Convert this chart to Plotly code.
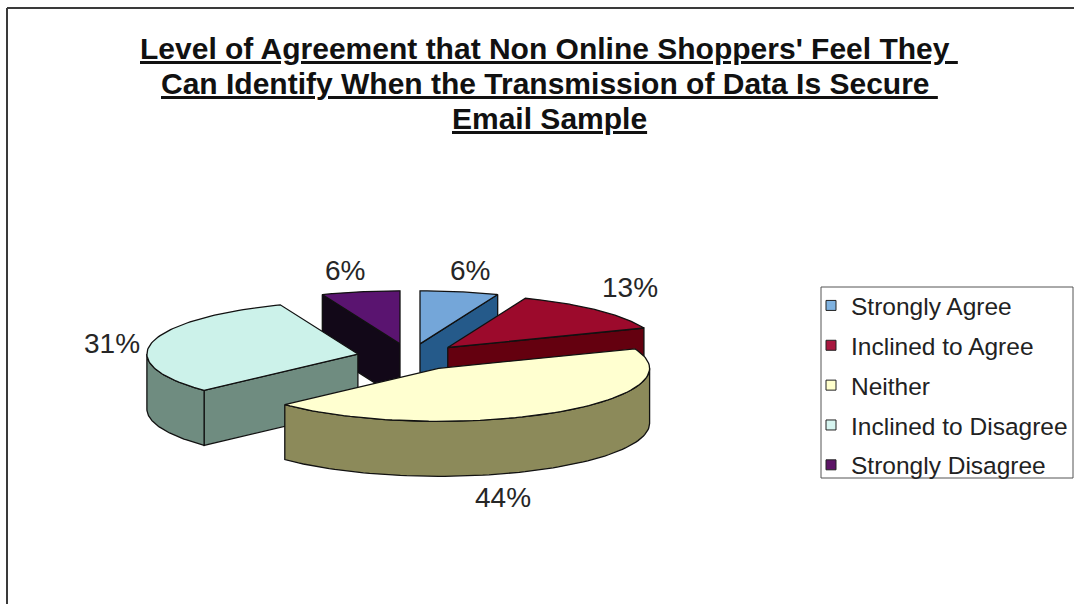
import numpy as np
import plotly.graph_objects as go

# ---- data -------------------------------------------------------------
CATEGORIES = ["Strongly Agree", "Inclined to Agree", "Neither",
              "Inclined to Disagree", "Strongly Disagree"]
VALUES = [6, 13, 44, 31, 6]

TITLE_LINES = [
    "Level of Agreement that Non Online Shoppers' Feel They ",
    "Can Identify When the Transmission of Data Is Secure ",
    "Email Sample",
]

# ---- styling ----------------------------------------------------------
TOP_COLORS = ["#74A6D9", "#9C0A2C", "#FFFFD0", "#CCF2EA", "#5A1470"]
SIDE_COLORS = ["#255A8A", "#64000F", "#8C8A5A", "#6F8C80", "#120818"]
LEGEND_COLORS = ["#7FB2E0", "#A8173F", "#FFFFCC", "#D6F5F0", "#5C1466"]

W, H = 1074, 604
CX, CY = 410.0, 357.0      # centre of the (unexploded) top face, px
RX, RY = 211.0, 53.0       # ellipse radii of the top face, px
DEPTH = 55.0               # visible thickness of the pie, px
EXPLODE = 0.253            # explosion distance as a fraction of the radius
START = 90.0               # first slice starts at 12 o'clock, clockwise

LABEL_POS = [(470, 270), (630, 287), (503, 497), (112, 343), (345, 270)]
LABEL_FONT = dict(family="Liberation Sans, Arial, sans-serif", size=28, color="#262626")

LEGEND_BOX = (821, 287, 1073, 478)   # x0, y0, x1, y1 in px


def ellipse(vx, vy, ang_deg, k=1.0):
    a = np.radians(ang_deg)
    return vx + k * RX * np.cos(a), vy - k * RY * np.sin(a)


def arc(vx, vy, a0, a1, n=80, dy=0.0):
    t = np.linspace(a0, a1, n)
    x, y = ellipse(vx, vy, t)
    return list(x), list(y + dy)


total = float(sum(VALUES))
cum = np.concatenate([[0.0], np.cumsum(VALUES)]) / total
slices = []
for i, v in enumerate(VALUES):
    hi = START - 360.0 * cum[i]
    lo = START - 360.0 * cum[i + 1]
    mid = 0.5 * (lo + hi)
    m = np.radians(mid)
    vx = CX + EXPLODE * RX * np.cos(m)
    vy = CY - EXPLODE * RY * np.sin(m)
    slices.append(dict(i=i, lo=lo, hi=hi, mid=mid, vx=vx, vy=vy))

fig = go.Figure()


def poly(xs, ys, color):
    fig.add_trace(go.Scatter(
        x=xs + [xs[0]], y=ys + [ys[0]], mode="lines", fill="toself",
        fillcolor=color, line=dict(color="#111111", width=1.3),
        hoverinfo="skip", showlegend=False))


# paint back slices first
for s in sorted(slices, key=lambda d: d["vy"]):
    i, lo, hi, vx, vy = s["i"], s["lo"], s["hi"], s["vx"], s["vy"]
    side = SIDE_COLORS[i]
    # radial walls facing the viewer
    for edge, normal in ((lo, lo - 90.0), (hi, hi + 90.0)):
        if np.sin(np.radians(normal)) < -1e-6:
            ox, oy = ellipse(vx, vy, edge)
            poly([vx, ox, ox, vx], [vy, oy, oy + DEPTH, vy + DEPTH], side)
    # curved outer wall, front half only
    for k in (-360.0, 0.0, 360.0):
        a0 = max(lo, -180.0 + k)
        a1 = min(hi, 0.0 + k)
        if a1 - a0 > 1e-6:
            tx, ty = arc(vx, vy, a0, a1)
            bx, by = arc(vx, vy, a1, a0, dy=DEPTH)
            poly(tx + bx, ty + by, side)
    # top face
    tx, ty = arc(vx, vy, lo, hi)
    poly([vx] + tx, [vy] + ty, TOP_COLORS[i])

# legend entries
for i, name in enumerate(CATEGORIES):
    fig.add_trace(go.Scatter(
        x=[None], y=[None], mode="markers", name=name, legendgroup=name,
        marker=dict(symbol="square", size=10, color=LEGEND_COLORS[i],
                    line=dict(color="#222222", width=1))))

# data labels
for s, (lx, ly) in zip(slices, LABEL_POS):
    pct = round(100.0 * VALUES[s["i"]] / total)
    fig.add_annotation(x=lx, y=ly, xref="x", yref="y", text=f"{pct}%",
                       showarrow=False, font=LABEL_FONT,
                       xanchor="center", yanchor="middle")

# title, one underlined line per annotation
for j, line in enumerate(TITLE_LINES):
    fig.add_annotation(
        x=549, y=48 + 35 * j, xref="x", yref="y", text=f"<b>{line}</b>",
        showarrow=False, xanchor="center", yanchor="middle",
        font=dict(family="Liberation Sans, Arial, sans-serif", size=30,
                  color="#111111", lineposition="under"))

# chart-area frame (left and top edges)
fig.add_shape(type="line", xref="x", yref="y", x0=7, y0=8, x1=W, y1=8,
              line=dict(color="#3a3a3a", width=2))
fig.add_shape(type="line", xref="x", yref="y", x0=7, y0=8, x1=7, y1=H,
              line=dict(color="#3a3a3a", width=2))
# legend frame
bx0, by0, bx1, by1 = LEGEND_BOX
fig.add_shape(type="rect", xref="x", yref="y", x0=bx0, y0=by0, x1=bx1, y1=by1,
              fillcolor="white", line=dict(color="#555555", width=1))

fig.update_layout(
    width=W, height=H,
    margin=dict(l=0, r=0, t=0, b=0, autoexpand=False),
    paper_bgcolor="white", plot_bgcolor="white",
    xaxis=dict(range=[0, W], visible=False, fixedrange=True),
    yaxis=dict(range=[H, 0], visible=False, fixedrange=True),
    showlegend=True,
    legend=dict(x=811 / W, y=1 - 283 / H, xanchor="left", yanchor="top",
                bgcolor="rgba(0,0,0,0)", borderwidth=0,
                font=dict(family="Liberation Sans, Arial, sans-serif", size=24.5,
                          color="#222222"),
                tracegroupgap=5,
                itemclick=False, itemdoubleclick=False),
)

fig.write_html("out.html")
